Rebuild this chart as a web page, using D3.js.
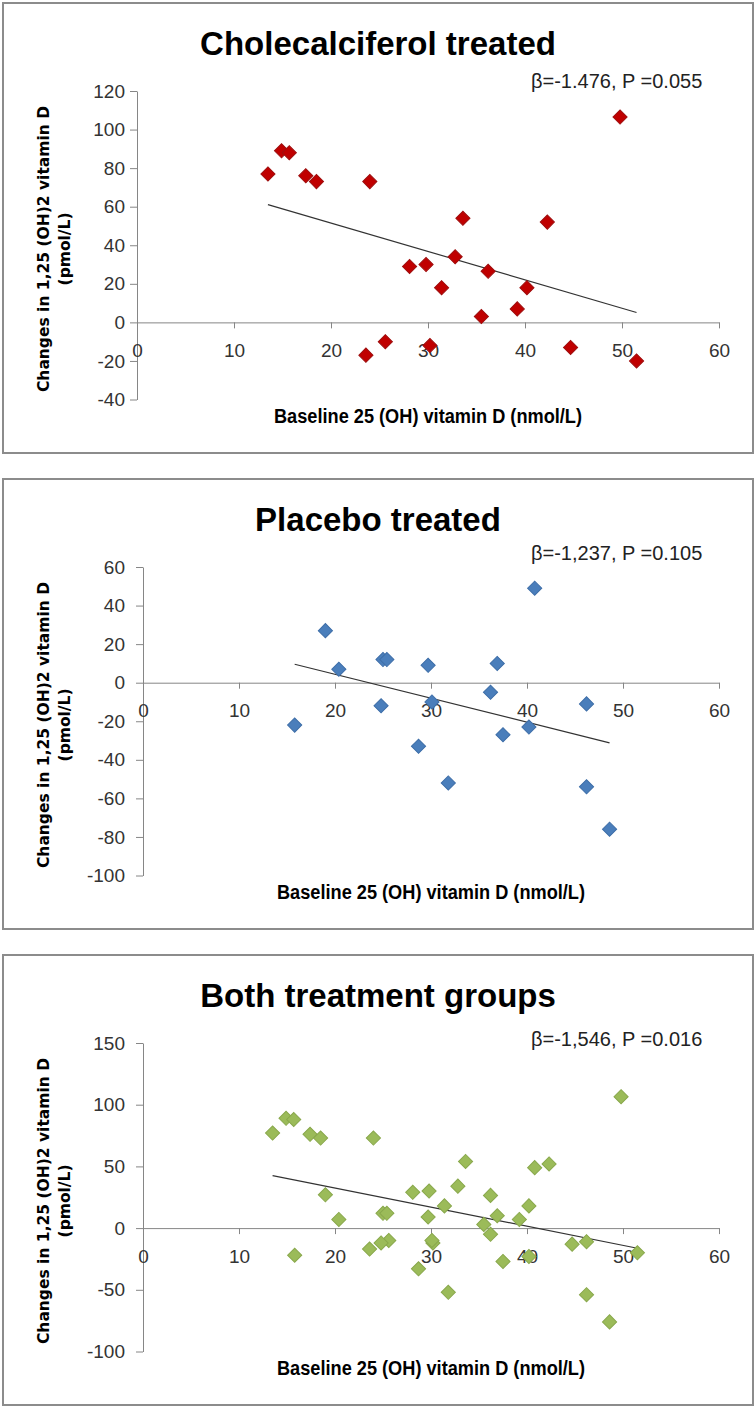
<!DOCTYPE html>
<html>
<head>
<meta charset="utf-8">
<script src="https://cdn.jsdelivr.net/npm/d3@7"></script>
<style>
  body { margin: 0; background: #fff; }
  svg { display: block; }
</style>
</head>
<body>
<svg id="chart"></svg>
<script>
// data
var cholX = [13.5, 14.9, 15.7, 17.4, 18.5, 24.0, 23.6, 25.6, 28.1, 29.8, 30.2,
             31.4, 32.8, 33.6, 35.5, 36.2, 39.2, 40.2, 42.3, 44.7, 49.8, 51.5];
var cholY = [77, 89, 88, 76, 73, 73, -17, -10, 29, 30, -12,
             18, 34, 54, 3, 26.5, 7, 18, 52, -13, 106.5, -20];

var placX = [15.8, 19.0, 20.4, 24.8, 25.0, 25.4, 28.7, 29.7, 30.1,
             31.8, 36.2, 36.9, 37.5, 40.2, 40.8, 46.2, 46.2, 48.6];
var placY = [-22, 27, 7, -12, 12, 12, -33, 9, -10,
             -52, -5, 10, -27, -23, 49, -11, -54, -76];

// third panel = both groups together
var bothX = cholX.concat(placX);
var bothY = cholY.concat(placY);

var xTicks = [0, 10, 20, 30, 40, 50, 60];
var yTicks1 = [-40, -20, 0, 20, 40, 60, 80, 100, 120];
var yTicks2 = [-100, -80, -60, -40, -20, 0, 20, 40, 60];
var yTicks3 = [-100, -50, 0, 50, 100, 150];

var titles = ["Cholecalciferol treated", "Placebo treated", "Both treatment groups"];
var betaLabels = ["\u03b2=-1.476, P =0.055", "\u03b2=-1,237, P =0.105", "\u03b2=-1,546, P =0.016"];

var xTitle = "Baseline 25 (OH) vitamin D (nmol/L)";
var yTitle1 = "Changes in 1,25 (OH)2 vitamin D";
var yTitle2 = "(pmol/L)";

var width = 756;
var height = 1408;
var sans = "'Liberation Sans', Arial, sans-serif";
var plain = function(d){ return String(d); };  // keep the hyphen minus

var panels = [
  {top: 3, xs: cholX, ys: cholY, yTicks: yTicks1, left: 137, fill: "#c00000", stroke: "#9e0f0f", betaY: 85},
  {top: 479, xs: placX, ys: placY, yTicks: yTicks2, left: 143, fill: "#4a7ebb", stroke: "#3e6ea8", betaY: 81},
  {top: 955, xs: bothX, ys: bothY, yTicks: yTicks3, left: 143, fill: "#9bbb59", stroke: "#89a84c", betaY: 91}
];

var svg = d3.select("#chart")
  .attr("width", width)
  .attr("height", height);

var diamond = d3.symbol().type(d3.symbolSquare).size(100);

panels.forEach(function(p, i){
  var g = svg.append("g").attr("transform", "translate(0," + p.top + ")");

  // frame
  g.append("rect")
    .attr("x", 3).attr("y", 0)
    .attr("width", 750).attr("height", 450)
    .attr("fill", "#fff")
    .attr("stroke", "#8c8c8c")
    .attr("stroke-width", 2);

  var x = d3.scaleLinear().domain([0, 60]).range([p.left, 719]);
  var y = d3.scaleLinear().domain(d3.extent(p.yTicks)).range([396.5, 88]);

  // y axis
  var yAxis = g.append("g")
    .attr("transform", "translate(" + p.left + ",0)")
    .call(d3.axisLeft(y).tickValues(p.yTicks).tickFormat(plain).tickSize(7)
      .tickPadding(p.left - 125 - 7).tickSizeOuter(0));
  yAxis.select(".domain").attr("stroke", "#868686");
  yAxis.selectAll(".tick line").attr("stroke", "#868686");
  yAxis.selectAll("text")
    .attr("font-family", sans).attr("font-size", 19).attr("fill", "#333");

  // x axis crossing at y = 0
  var xAxis = g.append("g")
    .attr("transform", "translate(0," + y(0) + ")")
    .call(d3.axisBottom(x).tickValues(xTicks).tickFormat(plain).tickSize(6)
      .tickPadding(15).tickSizeOuter(0));
  xAxis.select(".domain").attr("stroke", "#868686");
  xAxis.selectAll(".tick line").attr("stroke", "#868686");
  xAxis.selectAll("text")
    .attr("font-family", sans).attr("font-size", 19).attr("fill", "#333");

  // trend line (least squares through the points)
  var mx = d3.mean(p.xs), my = d3.mean(p.ys);
  var sxy = d3.sum(p.xs, function(v, k){ return (v - mx) * (p.ys[k] - my); });
  var sxx = d3.sum(p.xs, function(v){ return (v - mx) * (v - mx); });
  var slope = sxy / sxx;
  var x0 = d3.min(p.xs), x1 = d3.max(p.xs);
  g.append("line")
    .attr("x1", x(x0)).attr("y1", y(my + slope * (x0 - mx)))
    .attr("x2", x(x1)).attr("y2", y(my + slope * (x1 - mx)))
    .attr("stroke", "#333")
    .attr("stroke-width", 1.2);

  // markers
  g.selectAll("path.pt")
    .data(p.xs)
    .enter()
    .append("path")
    .attr("class", "pt")
    .attr("d", diamond)
    .attr("transform", function(d, k){
      return "translate(" + x(d) + "," + y(p.ys[k]) + ") rotate(45)";
    })
    .attr("fill", p.fill)
    .attr("stroke", p.stroke)
    .attr("stroke-width", 1);

  // titles
  g.append("text")
    .text(titles[i])
    .attr("x", 378).attr("y", 52)
    .attr("text-anchor", "middle")
    .attr("font-family", sans).attr("font-weight", "bold")
    .attr("font-size", 33).attr("fill", "#000");

  g.append("text")
    .text(betaLabels[i])
    .attr("x", 531).attr("y", p.betaY)
    .attr("font-family", sans).attr("font-size", 20).attr("fill", "#222");

  g.append("text")
    .text(xTitle)
    .attr("x", (p.left + 719) / 2).attr("y", 420)
    .attr("text-anchor", "middle")
    .attr("textLength", 308)
    .attr("lengthAdjust", "spacingAndGlyphs")
    .attr("font-family", sans).attr("font-weight", "bold")
    .attr("font-size", 20).attr("fill", "#000");

  var yt = g.append("g").attr("transform", "translate(0,246)");
  yt.append("text")
    .text(yTitle1)
    .attr("transform", "translate(44,0) rotate(-90)")
    .attr("dy", "0.35em")
    .attr("text-anchor", "middle")
    .attr("font-family", "'DejaVu Sans', sans-serif").attr("font-weight", "bold")
    .attr("font-size", 15.5).attr("fill", "#000");
  yt.append("text")
    .text(yTitle2)
    .attr("transform", "translate(65,0) rotate(-90)")
    .attr("dy", "0.35em")
    .attr("text-anchor", "middle")
    .attr("font-family", "'DejaVu Sans', sans-serif").attr("font-weight", "bold")
    .attr("font-size", 15.5).attr("fill", "#000");
});
</script>
</body>
</html>
